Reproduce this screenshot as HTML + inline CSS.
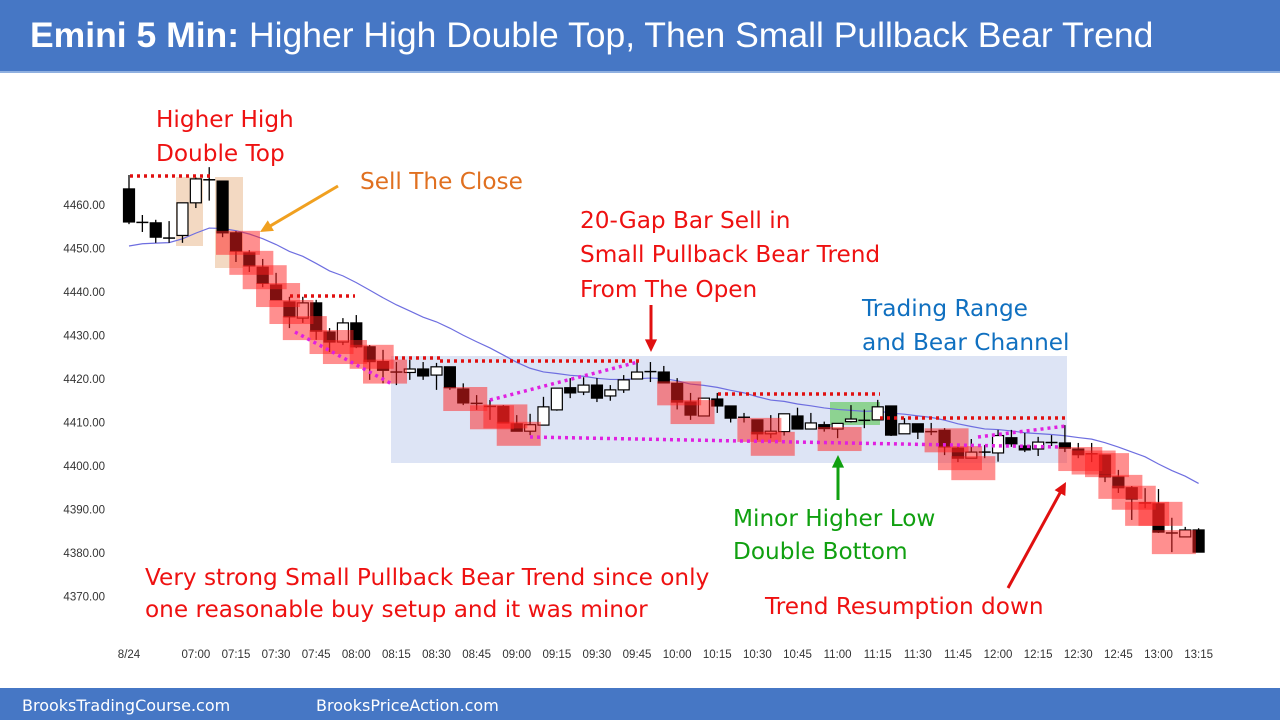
<!DOCTYPE html>
<html><head><meta charset="utf-8"><style>
body{margin:0;width:1280px;height:720px;overflow:hidden;background:#fff;font-family:"Liberation Sans",sans-serif}
#hdr{position:absolute;left:0;top:0;width:1280px;height:71px;background:#4677C5;border-bottom:2px solid #8fb0e0}
#hdr span{position:absolute;left:30px;top:15px;color:#fff;font-size:35.5px;white-space:nowrap}
#ftr{position:absolute;left:0;top:688px;width:1280px;height:32px;background:#4677C5;color:#fff;font-family:"DejaVu Sans",sans-serif;font-size:16px}
svg{position:absolute;left:0;top:0}
</style></head><body>
<div id="hdr"><span><b>Emini 5 Min:</b> Higher High Double Top, Then Small Pullback Bear Trend</span></div>
<div id="ftr"><span style="position:absolute;left:22px;top:8px">BrooksTradingCourse.com</span><span style="position:absolute;left:316px;top:8px">BrooksPriceAction.com</span></div>
<svg id="chart" width="1280" height="688"></svg>
<script>
const opens=[4463.7,4456.3,4455.9,4452.6,4453,4460.5,4466,4465.5,4453.6,4449,4445.7,4441.6,4437.7,4434,4437.5,4430.8,4428.5,4432.9,4427.4,4424,4421.8,4421.5,4422.3,4420.9,4422.8,4417.7,4414.6,4413.5,4413.7,4409.7,4408,4409.4,4412.9,4418,4417,4418.6,4416.1,4417.5,4420,4421.5,4421.6,4419,4414.7,4411.5,4415.4,4413.8,4411,4410.6,4407.4,4407.9,4411.5,4408.5,4409.5,4408.5,4410.2,4410.7,4410.6,4413.8,4407.4,4409.7,4408.1,4408.2,4404.1,4401.8,4403,4403,4406.5,4404.6,4403.9,4405.2,4405.3,4403.9,4403.1,4402.5,4397.5,4395,4391.3,4391.3,4384.8,4383.7,4385.3];
const highs=[4466.9,4457.7,4456.6,4456.3,4460.5,4466.3,4468.7,4465.5,4454,4449.6,4447.6,4444.4,4438.9,4438.9,4438.2,4431.7,4434,4434.7,4427.8,4426.7,4423.9,4424.4,4423.9,4423.7,4422.8,4419,4416.3,4415.2,4414,4411.7,4412,4415.9,4417.9,4420.2,4420.4,4420.2,4418.6,4420.9,4423.9,4423.9,4423,4420.2,4416.8,4415.6,4416.8,4413.8,4412.2,4410.6,4411.7,4412,4413.4,4412.2,4410.2,4409.8,4414,4413,4415.2,4413.8,4411,4409.7,4409.9,4408.7,4404.8,4406.2,4404.8,4408.3,4408.3,4407.6,4406.7,4407.1,4409.4,4405.3,4405.3,4402.5,4399.1,4395.4,4394.9,4394.7,4388.1,4386,4385.7];
const lows=[4455.6,4453.8,4451.3,4451.3,4451.3,4459.3,4461,4452.6,4446.9,4444.6,4441.1,4438.2,4431.7,4432.9,4429,4426.2,4427.8,4427.1,4419.8,4419,4418.6,4419.8,4419.8,4417.5,4417.5,4414,4412.9,4410.6,4409.9,4408,4407.1,4409.4,4412.7,4415.6,4416.3,4414.7,4415,4416.8,4420,4419.3,4419.1,4413,4410.6,4411.5,4412.2,4410,4410,4406,4406.4,4407,4408.5,4408.7,4407.9,4406.4,4410,4408.7,4410.6,4406.9,4407.4,4406.2,4407.1,4402.5,4400.9,4401.8,4401.8,4401,4404.4,4403.2,4402.3,4404.6,4403.2,4401.8,4400.9,4396.3,4393.8,4387.6,4390.3,4384.6,4380.2,4383.7,4380.2];
const closes=[4456.1,4456,4452.6,4452.4,4460.5,4466,4465.8,4453.6,4449.4,4446,4442,4438.2,4434.3,4437.5,4431,4428.5,4432.9,4427.4,4424,4422,4421.6,4422.3,4420.7,4422.8,4418,4414.5,4414.4,4413.7,4409.9,4408,4409.5,4413.6,4417.9,4416.8,4418.6,4415.6,4417.5,4419.8,4421.6,4421.7,4419.1,4414.7,4411.7,4415.6,4413.8,4411,4411.2,4407.4,4408,4412,4408.5,4409.9,4408.6,4409.8,4410.8,4410.5,4413.6,4407.1,4409.7,4407.8,4407.9,4404.4,4401.8,4403.2,4403.2,4407,4405.1,4403.7,4405.5,4405.4,4404.1,4402.6,4402.8,4397.5,4395,4392.4,4391.5,4384.8,4384.6,4385.3,4380.2];
const signalBars=[8,9,10,11,12,13,15,16,18,19,25,27,28,29,41,42,47,48,53,61,62,63,71,72,73,74,75,76,77,78];
const yTicks=[4460,4450,4440,4430,4420,4410,4400,4390,4380,4370];
const xTickLabels=["8/24","07:00","07:15","07:30","07:45","08:00","08:15","08:30","08:45","09:00","09:15","09:30","09:45","10:00","10:15","10:30","10:45","11:00","11:15","11:30","11:45","12:00","12:15","12:30","12:45","13:00","13:15"];
const xTickBars=[0,5,8,11,14,17,20,23,26,29,32,35,38,41,44,47,50,53,56,59,62,65,68,71,74,77,80];

const X=i=>129+i*13.37;
const Y=p=>205+(4460-p)*4.35;
const svg=document.getElementById('chart');
const NS='http://www.w3.org/2000/svg';
function mk(tag,attrs,parent){const e=document.createElementNS(NS,tag);for(const k in attrs)e.setAttribute(k,attrs[k]);(parent||svg).appendChild(e);return e;}

let e=mk('rect',{x:391,y:356,width:676,height:107,fill:'#dde4f5'});


e=mk('rect',{x:176,y:177,width:27,height:69,fill:'#f3d9c2'});


e=mk('rect',{x:215,y:177,width:28,height:91,fill:'#f3d9c2'});


e=mk('rect',{x:830,y:402,width:50,height:23,fill:'#7fd07f',opacity:0.85});



yTicks.forEach(v=>{const t=mk('text',{x:105,y:Y(v)+4,'text-anchor':'end','font-size':11.5,fill:'#333'});t.textContent=v.toFixed(2);

});
xTickLabels.forEach((l,k)=>{const t=mk('text',{x:X(xTickBars[k]),y:658,'text-anchor':'middle','font-size':11.5,fill:'#333'});t.textContent=l;

});

let ema=4450,pts=[];
closes.forEach((c,i)=>{ema=ema+(c-ema)*2/21;pts.push(X(i)+','+Y(ema));});
pts.push(X(80)+','+Y(ema));
e=mk('polyline',{points:pts.join(' '),fill:'none',stroke:'#6e6ee0','stroke-width':1.2});



closes.forEach((c,i)=>{const o=opens[i],x=X(i);
 const g=mk('g',{});
 
 
 mk('line',{x1:x,x2:x,y1:Y(highs[i]),y2:Y(lows[i]),stroke:'#000','stroke-width':1.3},g);
 const top=Y(Math.max(o,c)),h=Math.max(Math.abs(Y(o)-Y(c)),1.5);
 if(Math.abs(o-c)<0.4){mk('line',{x1:x-6,x2:x+6,y1:Y(c),y2:Y(c),stroke:'#000','stroke-width':1.5},g);}
 else mk('rect',{x:x-5.5,y:top,width:11,height:h,fill:c>o?'#fff':'#000',stroke:'#000','stroke-width':1.2},g);
});
signalBars.forEach(i=>{e=mk('rect',{x:X(i)-20,y:Y(opens[i])-2,width:44,height:24,fill:'#ff2020','fill-opacity':0.5});

});

function dots(x1,y1,x2,y2,col,name){const l=mk('line',{x1,y1,x2,y2,stroke:col,'stroke-width':3.5,'stroke-dasharray':'3 4'});

}
dots(130,176,213,176,'#e01010','resistance-line');
dots(290,296,355,296,'#e01010','resistance-line');
dots(395,358,440,358,'#e01010','resistance-line');
dots(440,361,640,361,'#e01010','resistance-line');
dots(718,394,880,394,'#e01010','resistance-line');
dots(880,418,1066,418,'#e01010','resistance-line');
dots(295,332,392,384,'#e020e0','trend-line');
dots(490,400,638,362,'#e020e0','trend-line');
dots(530,437,1060,447,'#e020e0','support-line');
dots(978,437,1066,426,'#e020e0','trend-line');

function arrow(x1,y1,x2,y2,col,name){const g=mk('g',{});


const a=Math.atan2(y2-y1,x2-x1),L=14;
mk('line',{x1,y1,x2:x2-Math.cos(a)*8,y2:y2-Math.sin(a)*8,stroke:col,'stroke-width':3},g);
mk('polygon',{points:`${x2},${y2} ${x2-L*Math.cos(a-0.45)},${y2-L*Math.sin(a-0.45)} ${x2-L*Math.cos(a+0.45)},${y2-L*Math.sin(a+0.45)}`,fill:col},g);}
arrow(338,186,260,232,'#f0a020','sell-close-arrow');
arrow(651,305,651,352,'#e01010','gap-bar-arrow');
arrow(838,500,838,455,'#10a010','higher-low-arrow');
arrow(1008,588,1066,482,'#e01010','trend-resumption-arrow');

function txt(x,y,s,col,name){const t=mk('text',{x,y,'font-size':23.2,fill:col,'font-family':'DejaVu Sans, sans-serif'});t.textContent=s;

}
txt(156,127,'Higher High','#ee1111','annotation-higher-high');
txt(156,161,'Double Top','#ee1111','annotation-double-top');
txt(360,189,'Sell The Close','#e07020','annotation-sell-close');
txt(580,228,'20-Gap Bar Sell in','#ee1111','annotation-gap-bar-1');
txt(580,262,'Small Pullback Bear Trend','#ee1111','annotation-gap-bar-2');
txt(580,297,'From The Open','#ee1111','annotation-gap-bar-3');
txt(862,316,'Trading Range','#1070c0','annotation-trading-range-1');
txt(862,350,'and Bear Channel','#1070c0','annotation-trading-range-2');
txt(733,526,'Minor Higher Low','#10a010','annotation-higher-low-1');
txt(733,559,'Double Bottom','#10a010','annotation-higher-low-2');
txt(145,585,'Very strong Small Pullback Bear Trend since only','#ee1111','annotation-summary-1');
txt(145,617,'one reasonable buy setup and it was minor','#ee1111','annotation-summary-2');
txt(765,614,'Trend Resumption down','#ee1111','annotation-trend-resumption');
</script>
</body></html>
